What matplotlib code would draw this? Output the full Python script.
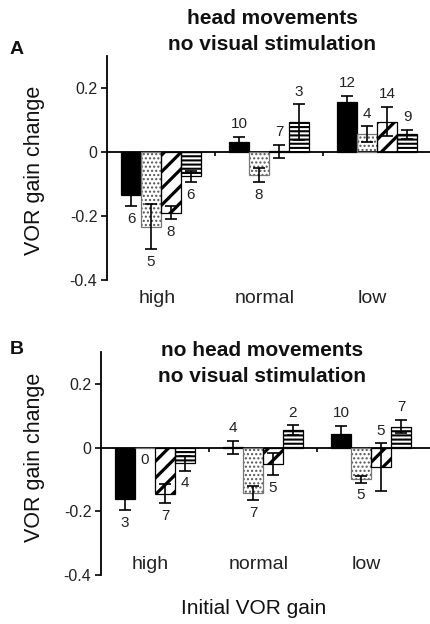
import matplotlib
matplotlib.use("Agg")
import matplotlib.pyplot as plt
import numpy as np

plt.rcParams['font.family'] = ['Liberation Sans', 'DejaVu Sans']

categories = ["high", "normal", "low"]
series_names = ["black", "dotted", "hatched", "striped"]

# Panel A: head movements, no visual stimulation
a_values = {
    "black":   [-0.134, 0.032, 0.156],
    "dotted":  [-0.234, -0.072, 0.056],
    "hatched": [-0.190, 0.002, 0.095],
    "striped": [-0.076, 0.094, 0.056],
}
a_errors = {
    "black":   [0.036, 0.015, 0.020],
    "dotted":  [0.070, 0.022, 0.024],
    "hatched": [0.020, 0.020, 0.045],
    "striped": [0.018, 0.055, 0.014],
}
a_counts = {
    "black":   [6, 10, 12],
    "dotted":  [5, 8, 4],
    "hatched": [8, 7, 14],
    "striped": [6, 3, 9],
}

# Panel B: no head movements, no visual stimulation
b_values = {
    "black":   [-0.160, 0.001, 0.042],
    "dotted":  [0.0, -0.143, -0.100],
    "hatched": [-0.145, -0.052, -0.062],
    "striped": [-0.050, 0.055, 0.066],
}
b_errors = {
    "black":   [0.037, 0.020, 0.025],
    "dotted":  [0.0, 0.022, 0.010],
    "hatched": [0.030, 0.035, 0.075],
    "striped": [0.022, 0.015, 0.020],
}
b_counts = {
    "black":   [3, 4, 10],
    "dotted":  [0, 7, 5],
    "hatched": [7, 5, 5],
    "striped": [4, 2, 7],
}

yticks = [-0.4, -0.2, 0, 0.2]
ytick_labels = ["-0.4", "-0.2", "0", "0.2"]

styles = {
    "black":   dict(face="black", hatch=None, hcolor="black", hlw=1.0, edge="black"),
    "dotted":  dict(face="white", hatch="....", hcolor="#555555", hlw=1.0, edge="#777777"),
    "hatched": dict(face="white", hatch="//", hcolor="black", hlw=2.3, edge="black"),
    "striped": dict(face="white", hatch="----", hcolor="black", hlw=1.5, edge="black"),
}

fig = plt.figure(figsize=(4.3, 6.24), dpi=100)
W, H = 430.0, 624.0

def px_axes(left, top, right, bottom):
    return fig.add_axes([left / W, 1 - bottom / H, (right - left) / W, (bottom - top) / H])

width = 0.185

def draw_panel(ax, values, errors, counts, xmax, cat_y):
    x = np.arange(len(categories))
    for i, name in enumerate(series_names):
        st = styles[name]
        pos = x + (i - 1.5) * width
        v = np.array(values[name])
        e = np.array(errors[name])
        plt.rcParams['hatch.linewidth'] = st["hlw"]
        bars = ax.bar(pos, v, width, color=st["face"], edgecolor=st["hcolor"],
                      hatch=st["hatch"], linewidth=0, zorder=2)
        for b in bars:
            if hasattr(b, "set_hatch_linewidth"):
                b.set_hatch_linewidth(st["hlw"])
        ax.bar(pos, v, width, facecolor="none", edgecolor=st["edge"],
               linewidth=0.9, zorder=3)
        mask = e > 0
        ax.errorbar(pos[mask], v[mask], yerr=e[mask], fmt="none", ecolor="black",
                    elinewidth=1.2, capsize=4, capthick=1.2, zorder=4)
        for p, vv, ee, n in zip(pos, v, e, counts[name]):
            above = (vv > 0) or (abs(vv) < ee)
            y = vv + ee + 0.04 if above else vv - ee - 0.04
            ax.text(p, y, str(n), ha="center", va="center", fontsize=11,
                    color="#222222", zorder=5)
    ax.set_xlim(-0.5, xmax)
    ax.set_ylim(-0.4, 0.3)
    ax.spines["top"].set_visible(False)
    ax.spines["right"].set_visible(False)
    ax.spines["bottom"].set_position(("data", 0))
    ax.spines["left"].set_bounds(-0.4, 0.3)
    for s in ("left", "bottom"):
        ax.spines[s].set_linewidth(1.3)
    ax.set_yticks(yticks)
    ax.set_yticklabels(ytick_labels, fontsize=11.5, color="#222222")
    ax.tick_params(axis="y", direction="out", length=4, width=1.2, pad=3)
    ax.set_xticks([0.5, 1.5])
    ax.set_xticklabels([])
    ax.tick_params(axis="x", direction="out", length=3, width=1.2)
    for xi, c in zip(x, categories):
        ax.text(xi - 0.04, cat_y, c, ha="center", va="center", fontsize=14,
                color="#222222", clip_on=False)

axA = px_axes(107, 56, 430, 280)
draw_panel(axA, a_values, a_errors, a_counts, 2.49, -0.457)

axB = px_axes(101, 352, 430, 575)
draw_panel(axB, b_values, b_errors, b_counts, -0.5 + 329 / 108.0, -0.366)

def ftext(xp, yp, s, **kw):
    fig.text(xp / W, 1 - yp / H, s, ha="center", va="center", color="#111111", **kw)

ftext(272, 18, "head movements", fontsize=15, fontweight="bold")
ftext(272, 45, "no visual stimulation", fontsize=15, fontweight="bold")
ftext(262, 350, "no head movements", fontsize=15, fontweight="bold")
ftext(262, 376, "no visual stimulation", fontsize=15, fontweight="bold")

ftext(17, 49, "A", fontsize=14, fontweight="bold")
ftext(17, 350, "B", fontsize=14, fontweight="bold")

ftext(35, 170, "VOR gain change", fontsize=15.5, rotation=90)
ftext(35, 457, "VOR gain change", fontsize=15.5, rotation=90)

ftext(254, 608, "Initial VOR gain", fontsize=15)

fig.savefig("out.png", dpi=100)
